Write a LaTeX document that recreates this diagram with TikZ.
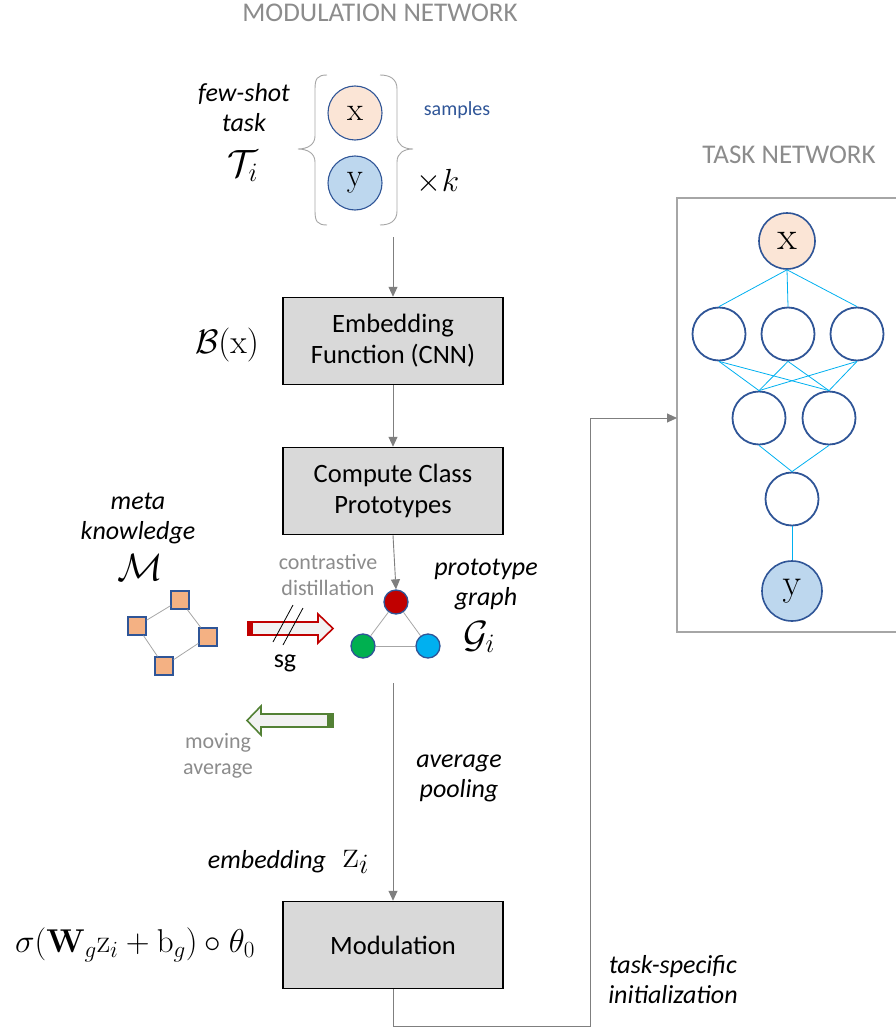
\RequirePackage{fix-cm}
\documentclass[tikz,border=0pt]{standalone}
\usepackage[no-math]{fontspec}
\setmainfont{Carlito}
\usetikzlibrary{arrows.meta}
\definecolor{boxgray}{HTML}{D9D9D9}
\definecolor{linegray}{HTML}{7F7F7F}
\definecolor{textgray}{HTML}{8C8C8C}
\definecolor{edgegray}{HTML}{A6A6A6}
\definecolor{nodeblue}{HTML}{2F5597}
\definecolor{peach}{HTML}{FBE5D6}
\definecolor{lightblue}{HTML}{BDD7EE}
\definecolor{cyanline}{HTML}{00B0F0}
\definecolor{protored}{HTML}{C00000}
\definecolor{protogreen}{HTML}{00B050}
\definecolor{protocyan}{HTML}{00B0F0}
\definecolor{metaorange}{HTML}{F4B183}
\definecolor{arrowfill}{HTML}{F2F2F2}
\definecolor{darkgreen}{HTML}{538135}
\begin{document}
\begin{tikzpicture}[x=1pt,y=-1pt,
  block/.style={draw=black, line width=1.5pt, fill=boxgray, minimum width=220pt,
    minimum height=87pt, align=center, inner sep=0pt, font=\fontsize{26.5}{31}\selectfont},
  var/.style={circle, draw=nodeblue, line width=1.1pt, minimum size=54pt, inner sep=0pt,
    font=\fontsize{33}{33}\selectfont},
  hid/.style={circle, draw=nodeblue, line width=1.8pt, minimum size=53pt, inner sep=0pt},
  flow/.style={draw=linegray, line width=0.9pt, -{Triangle[length=10pt,width=9pt]}},
  lbl/.style={font=\itshape\fontsize{26}{30}\selectfont, align=center, inner sep=0pt},
  note/.style={text=textgray, font=\fontsize{22}{26.5}\selectfont, align=center, inner sep=0pt},
  title/.style={text=textgray, font=\fontsize{27}{27}\selectfont, inner sep=0pt},
  mathlbl/.style={font=\fontsize{33}{33}\selectfont, inner sep=0pt},
  callbl/.style={font=\fontsize{38}{38}\selectfont, inner sep=0pt},
  brace/.style={draw=edgegray, line width=0.9pt},
  proto/.style={circle, draw=nodeblue, line width=1.3pt, minimum size=24pt, inner sep=0pt},
  metasq/.style={rectangle, draw=nodeblue, line width=1.3pt, fill=metaorange,
    minimum size=18pt, inner sep=0pt},
  gedge/.style={draw=edgegray, line width=0.8pt},
  nnedge/.style={draw=cyanline, line width=0.8pt}]
\useasboundingbox (0,0) rectangle (896,1030);

% ---------- titles ----------
\node[title] (modtitle) at (380,13) {MODULATION NETWORK};
\node[title] (tasktitle) at (789,155) {TASK NETWORK};

% ---------- few-shot task ----------
\node[lbl] (fewshot) at (244,108) {few-shot\\task};
\node[callbl] (Ti) at (243,166) {$\mathcal{T}_i$};
\node[var, fill=peach] (sx) at (355,113) {$\mathrm{x}$};
\node[var, fill=lightblue] (sy) at (355,183) {$\mathrm{y}$};
\node[text=nodeblue, font=\fontsize{20}{20}\selectfont, inner sep=0pt] (samples) at (457,110) {samples};
\node[mathlbl, font=\fontsize{32}{32}\selectfont] (times) at (438,182) {$\times k$};
\path[brace] (327,75) .. controls (317,75) and (315,79) .. (315,89) -- (315,136)
  .. controls (315,145) and (307,149) .. (298,149)
  .. controls (307,149) and (315,153) .. (315,162) -- (315,211)
  .. controls (315,221) and (317,225) .. (327,225);
\path[brace] (380,75) .. controls (390,75) and (397,79) .. (397,89) -- (397,136)
  .. controls (397,145) and (404,149) .. (413,149)
  .. controls (404,149) and (397,153) .. (397,162) -- (397,211)
  .. controls (397,221) and (390,225) .. (380,225);
\coordinate (taskout) at (393,237);

% ---------- main column ----------
\node[block] (embed) at (393,341) {Embedding\\Function (CNN)};
\node[mathlbl, font=\fontsize{34}{34}\selectfont] (Bx) at (227,345) {$\mathcal{B}(\mathrm{x})$};
\node[block] (proto) at (393,491) {Compute Class\\Prototypes};
\node[block] (modul) at (393,945) {Modulation};
\node[mathlbl] (formula) at (135,945) {$\sigma(\mathbf{W}_g\mathrm{z}_i+\mathrm{b}_g)\circ\theta_0$};

\draw[flow] (taskout) -- (embed.north);
\draw[flow] (embed.south) -- (proto.north);

% ---------- prototype graph ----------
\node[proto, fill=protored] (pr) at (396,602) {};
\node[proto, fill=protogreen] (pg) at (363,646) {};
\node[proto, fill=protocyan] (pc) at (428,646) {};
\draw[gedge] (pr) -- (pg);
\draw[gedge] (pr) -- (pc);
\draw[gedge] (pg) -- (pc);
\draw[flow] (proto.south) -- (pr.north);
\node[note] (contrast) at (328,575) {contrastive\\distillation};
\node[lbl] (protolbl) at (486,585) {prototype\\graph};
\node[callbl] (Gi) at (479,637) {$\mathcal{G}_i$};

% ---------- meta knowledge ----------
\node[lbl] (metalbl) at (138,519) {meta\\knowledge};
\node[callbl] (M) at (140,568) {$\mathcal{M}$};
\node[metasq] (m1) at (180,600) {};
\node[metasq] (m2) at (137,626) {};
\node[metasq] (m3) at (208,637) {};
\node[metasq] (m4) at (164,666) {};
\draw[gedge] (m1) -- (m2);
\draw[gedge] (m1) -- (m3);
\draw[gedge] (m2) -- (m4);
\draw[gedge] (m3) -- (m4);

% distillation arrow (stop-gradient)
\filldraw[draw=protored, fill=arrowfill, line width=1.6pt]
  (248,622) -- (318,622) -- (318,614) -- (333,628.5) -- (318,643) -- (318,635) -- (248,635) -- cycle;
\fill[protored] (247,621.2) rectangle (253,635.8);
\draw[black, line width=0.8pt] (273,642) -- (293,605);
\draw[black, line width=0.8pt] (283,645) -- (303,608);
\node[font=\fontsize{26}{26}\selectfont, inner sep=0pt] (sg) at (285,663) {sg};

% moving-average arrow
\filldraw[draw=darkgreen, fill=arrowfill, line width=1.6pt]
  (333,714) -- (261,714) -- (261,706) -- (247,720.5) -- (261,735) -- (261,727) -- (333,727) -- cycle;
\fill[darkgreen] (327,713.2) rectangle (333.8,727.8);
\node[note] (moving) at (218,756) {moving\\average};

% ---------- pooling to modulation ----------
\coordinate (poolstart) at (393,683);
\draw[flow] (poolstart) -- (modul.north);
\node[lbl] (pooling) at (459,778) {average\\pooling};
\node[lbl] (embedlbl) at (267,862) {embedding};
\node[mathlbl, font=\fontsize{40}{40}\selectfont] (zi) at (356,862) {$\mathrm{z}_i$};

% ---------- task network ----------
\draw[draw=edgegray, line width=1.2pt] (897,198) -- (677,198) -- (677,632) -- (897,632);
\node[var, fill=peach, minimum size=56pt, line width=1.6pt, font=\fontsize{40}{40}\selectfont] (tx) at (787,241) {$\mathrm{x}$};
\node[hid] (h1) at (719,334) {};
\node[hid] (h2) at (788,334) {};
\node[hid] (h3) at (857,334) {};
\node[hid] (g1) at (759,418) {};
\node[hid] (g2) at (829,418) {};
\node[hid] (k1) at (792,499) {};
\node[var, fill=lightblue, minimum size=60pt, line width=1.6pt, font=\fontsize{38}{38}\selectfont] (ty) at (792,591) {$\mathrm{y}$};
\foreach \h in {h1,h2,h3} \draw[nnedge] (tx.south) -- (\h.north);
\foreach \h in {h1,h2,h3} \foreach \g in {g1,g2} \draw[nnedge] (\h.south) -- (\g.north);
\foreach \g in {g1,g2} \draw[nnedge] (\g.south) -- (k1.north);
\draw[nnedge] (k1.south) -- (ty.north);

% task-specific initialization path
\coordinate (c1) at (393,1026);
\coordinate (c2) at (590,1026);
\coordinate (c3) at (590,418);
\coordinate (tnin) at (677,418);
\draw[flow] (modul.south) -- (c1) -- (c2) -- (c3) -- (tnin);
\node[lbl] (tsi) at (673,980) {task-specific\\initialization};
\end{tikzpicture}
\end{document}
